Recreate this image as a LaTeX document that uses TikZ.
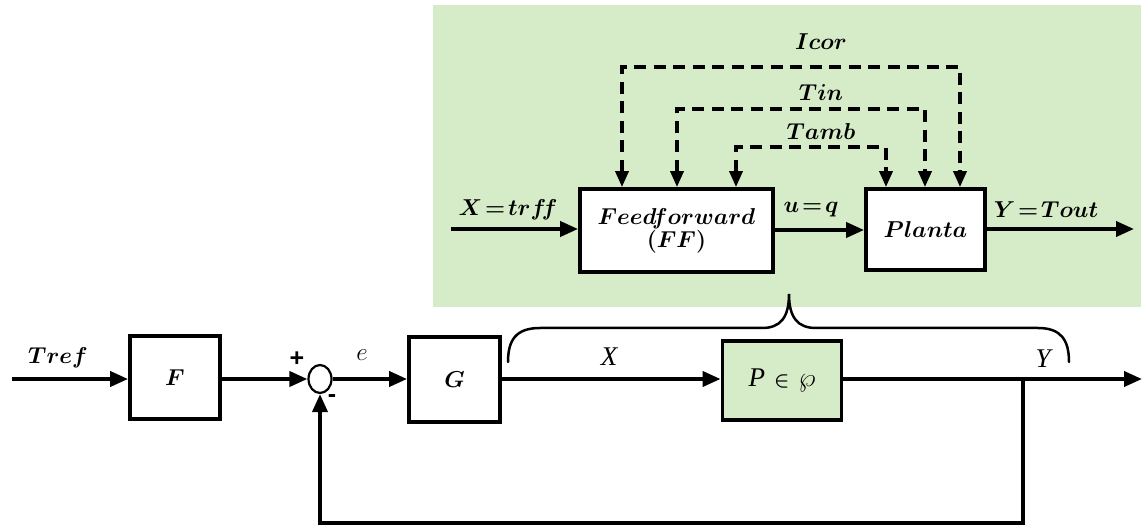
\RequirePackage{fix-cm}
\documentclass[tikz,border=0pt]{standalone}
\usepackage{amsmath}
\usepackage{fontspec}
\usetikzlibrary{arrows.meta,shapes.geometric}
\newfontfamily\signfont{Liberation Sans}
\newfontfamily\serifit{Liberation Serif}[ItalicFont={Liberation Serif Italic}]
\definecolor{lgreen}{RGB}{214,235,199}
\begin{document}
\begin{tikzpicture}[x=1pt,y=-1pt,
  blk/.style={draw, line width=3.8pt, fill=white, inner sep=0pt},
  lab/.style={inner sep=0pt, font=\fontsize{23}{26}\selectfont\boldmath},
  nlab/.style={inner sep=0pt, font=\fontsize{25}{27}\selectfont},
  tlab/.style={inner sep=0pt, font=\serifit\itshape\fontsize{27}{29}\selectfont},
  sgn/.style={inner sep=0pt, font=\signfont\bfseries\fontsize{25}{25}\selectfont},
  wire/.style={line width=3.8pt},
  arr/.style={wire, -{Triangle[length=18pt,width=15pt]}},
  dsh/.style={line width=3.5pt, dash pattern=on 12pt off 7.5pt,
     {Triangle[length=16pt,width=13pt]}-{Triangle[length=16pt,width=13pt]}},
  brace/.style={line width=2.5pt, line cap=round}
]
\useasboundingbox (0,0) rectangle (1144,529);
% green background
\fill[lgreen] (433,5) rectangle (1141,307);

% ---------- top (feedforward) ----------
\node[blk, minimum width=193pt, minimum height=83pt, align=center, lab] (ff) at (676.5,230.5)
  {$Feedforward$\\[-3pt]$(FF)$};
\node[blk, minimum width=119pt, minimum height=81pt, lab] (planta) at (925.5,229.5) {$Planta$};

\coordinate (xin) at (451,229);
\coordinate (yout) at (1134,229);
\draw[arr] (xin) -- (ff.west |- xin);
\draw[arr] (ff.east |- 0,230) -- (planta.west |- 0,230);
\draw[arr] (planta.east |- yout) -- (yout);

\coordinate (icorL) at (622,67);  \coordinate (icorR) at (960,67);
\coordinate (tinL)  at (677,109); \coordinate (tinR)  at (925,109);
\coordinate (tambL) at (736,147); \coordinate (tambR) at (886,147);
\draw[dsh] (ff.north -| icorL) -- (icorL) -- (icorR) -- (planta.north -| icorR);
\draw[dsh] (ff.north -| tinL) -- (tinL) -- (tinR) -- (planta.north -| tinR);
\draw[dsh] (ff.north -| tambL) -- (tambL) -- (tambR) -- (planta.north -| tambR);

\node[lab] (licor) at (821,42) {$Icor$};
\node[lab] (ltin)  at (821,93) {$Tin$};
\node[lab] (ltamb) at (821,132) {$Tamb$};
\node[lab] (lxin)  at (508,210) {$X\!=\!trf\!f$};
\node[lab] (luq)   at (811,210) {$u\!=\!q$};
\node[lab] (lyout) at (1046,210) {$Y\!=\!Tout$};

% ---------- brace ----------
\coordinate (bl) at (508,362);
\coordinate (bp) at (789,294);
\coordinate (br) at (1069,362);
\draw[brace] (bl) .. controls (508,340) and (516,328) .. (540,328) -- (762,328)
   .. controls (780,328) and (789,318) .. (bp)
   .. controls (789,318) and (798,328) .. (816,328) -- (1038,328)
   .. controls (1061,328) and (1069,340) .. (br);

% ---------- bottom loop ----------
\coordinate (tin0) at (12,379);
\node[blk, minimum width=90pt, minimum height=83pt, lab] (F) at (175,377.5) {$F$};
\node[draw, ellipse, line width=2.2pt, fill=white, minimum width=23pt, minimum height=28pt, inner sep=0pt] (sum) at (320,379) {};
\node[blk, minimum width=91pt, minimum height=85pt, lab] (G) at (454.5,379.5) {$G$};
\node[blk, fill=lgreen, minimum width=119pt, minimum height=79pt, tlab] (P) at (782,380.5)
  {P\hspace{9pt}{\fontsize{20}{20}\selectfont\boldmath$\in$}\hspace{9pt}{\fontsize{27}{27}\selectfont$\wp$}};
\coordinate (out) at (1142,379);
\coordinate (brn) at (1023,379);
\coordinate (bot) at (1023,523);

\draw[arr] (tin0) -- (F.west |- tin0);
\draw[arr] (F.east |- sum) -- (sum.west);
\draw[arr] (sum.east) -- (G.west |- sum);
\draw[arr] (G.east |- sum) -- (P.west |- sum);
\draw[arr] (P.east |- out) -- (out);
\draw[arr] (brn) -- (bot) -| (sum.south);

\node[lab] (ltref) at (58,358) {$Tref$};
\node[sgn] (lplus) at (297,359) {+};
\node[sgn] (lminus) at (332,399) {-};
\node[nlab] (le) at (362,355) {$e$};
\node[tlab] (lX) at (609,357) {X};
\node[tlab] (lY) at (1043,359) {Y};
\end{tikzpicture}
\end{document}
